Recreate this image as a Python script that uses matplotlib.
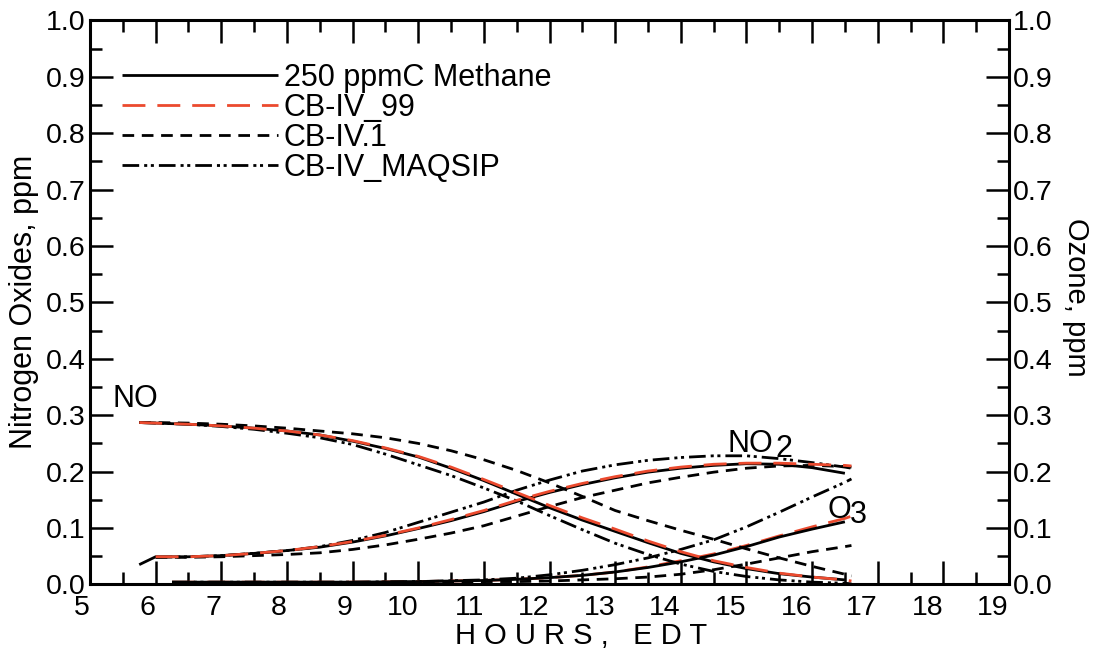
import numpy as np
import matplotlib
matplotlib.use("Agg")
import matplotlib.pyplot as plt
from matplotlib.ticker import MultipleLocator, FormatStrFormatter

nan = np.nan

# ---------------- data ----------------
hours = [5.75, 6.0, 6.5, 7.0, 7.5, 8.0, 8.5, 9.0, 9.5, 10.0, 10.5, 11.0, 11.5,
         12.0, 12.5, 13.0, 13.5, 14.0, 14.5, 15.0, 15.5, 16.0, 16.5, 16.6]

methane_no = [0.287, 0.286, 0.284, 0.281, 0.277, 0.272, 0.265, 0.254, 0.241, 0.226, 0.206, 0.184,
              0.160, 0.136, 0.114, 0.094, 0.074, 0.055, 0.040, 0.028, 0.019, 0.013, 0.008, nan]
cb99_no = [0.287, 0.286, 0.284, 0.281, 0.277, 0.272, 0.265, 0.255, 0.242, 0.227, 0.208, 0.186,
           0.163, 0.140, 0.118, 0.098, 0.077, 0.058, 0.042, 0.030, 0.020, 0.013, 0.008, 0.006]
cb1_no = [0.287, 0.287, 0.286, 0.284, 0.281, 0.277, 0.272, 0.267, 0.260, 0.250, 0.237, 0.221,
          0.202, 0.180, 0.156, 0.131, 0.113, 0.096, 0.080, 0.063, 0.047, 0.032, 0.018, 0.015]
maq_no = [0.287, 0.286, 0.284, 0.280, 0.275, 0.268, 0.260, 0.248, 0.231, 0.212, 0.193, 0.171,
          0.148, 0.122, 0.097, 0.073, 0.053, 0.036, 0.023, 0.014, 0.008, 0.004, 0.002, 0.001]

methane_no2 = [0.035, 0.049, 0.049, 0.051, 0.055, 0.060, 0.066, 0.075, 0.086, 0.099, 0.113, 0.129,
               0.147, 0.163, 0.177, 0.189, 0.199, 0.206, 0.211, 0.214, 0.213, 0.207, 0.197, nan]
cb99_no2 = [nan, 0.049, 0.049, 0.051, 0.055, 0.060, 0.067, 0.076, 0.087, 0.100, 0.115, 0.131,
            0.149, 0.165, 0.179, 0.191, 0.201, 0.208, 0.213, 0.215, 0.215, 0.213, 0.211, 0.210]
cb1_no2 = [nan, 0.048, 0.048, 0.049, 0.051, 0.053, 0.056, 0.062, 0.070, 0.080, 0.091, 0.104,
           0.121, 0.138, 0.154, 0.167, 0.180, 0.190, 0.199, 0.206, 0.210, 0.211, 0.209, 0.208]
maq_no2 = [nan, 0.048, 0.049, 0.051, 0.055, 0.060, 0.067, 0.078, 0.092, 0.110, 0.128, 0.146,
           0.167, 0.185, 0.201, 0.212, 0.220, 0.225, 0.228, 0.228, 0.223, 0.216, 0.208, 0.206]

hours_o3 = [6.25, 7.0, 8.0, 9.0, 10.0, 11.0, 11.5, 12.0, 12.5, 13.0, 13.5, 14.0, 14.5,
            15.0, 15.5, 16.0, 16.5, 16.6]
methane_o3 = [0.004, 0.004, 0.004, 0.004, 0.005, 0.007, 0.009, 0.012, 0.016, 0.022, 0.030, 0.040,
              0.052, 0.067, 0.084, 0.098, 0.111, nan]
cb99_o3 = [0.004, 0.004, 0.004, 0.004, 0.005, 0.007, 0.009, 0.012, 0.016, 0.022, 0.031, 0.042,
           0.054, 0.069, 0.086, 0.102, 0.117, 0.121]
cb1_o3 = [0.003, 0.003, 0.003, 0.003, 0.004, 0.005, 0.005, 0.006, 0.008, 0.010, 0.013, 0.018,
          0.026, 0.036, 0.047, 0.058, 0.067, 0.069]
maq_o3 = [0.004, 0.004, 0.004, 0.004, 0.005, 0.008, 0.011, 0.017, 0.025, 0.035, 0.047, 0.062,
          0.079, 0.102, 0.128, 0.155, 0.181, 0.187]

series_names = ["250 ppmC Methane", "CB-IV_99", "CB-IV.1", "CB-IV_MAQSIP"]
x_ticks = list(range(5, 20))
x_tick_labels = [str(v) for v in x_ticks]

# ---------------- style ----------------
plt.rcParams['font.family'] = ['Liberation Sans', 'DejaVu Sans']
plt.rcParams['lines.scale_dashes'] = False

RED = '#EB4A2E'
styles = {
    "250 ppmC Methane": dict(color='black', ls='-', lw=2.0, zorder=4),
    "CB-IV_99": dict(color=RED, ls=(0, (16.5, 8.6)), lw=2.0, zorder=5),
    "CB-IV.1": dict(color='black', ls=(0, (8.4, 5.5)), lw=2.0, zorder=3),
    "CB-IV_MAQSIP": dict(color='black', ls=(0, (12, 3.6, 2.2, 2.6, 2.2, 3.6)), lw=2.0, zorder=3),
}
data = {
    "250 ppmC Methane": (methane_no, methane_no2, methane_o3),
    "CB-IV_99": (cb99_no, cb99_no2, cb99_o3),
    "CB-IV.1": (cb1_no, cb1_no2, cb1_o3),
    "CB-IV_MAQSIP": (maq_no, maq_no2, maq_o3),
}

W, H = 1094, 650
fig = plt.figure(figsize=(W / 100, H / 100), dpi=100)
ax = fig.add_axes([90 / W, 1 - 584.4 / H, 919 / W, 564 / H])

handles = []
for name in series_names:
    no, no2, o3 = data[name]
    st = styles[name]
    h, = ax.plot(hours, no, label=name, solid_capstyle='butt', dash_capstyle='butt', **st)
    ax.plot(hours, no2, solid_capstyle='butt', dash_capstyle='butt', **st)
    o3_style = dict(st)
    if name == "CB-IV_99":
        o3_style['zorder'] = 2
    ax.plot(hours_o3, o3, solid_capstyle='butt', dash_capstyle='butt', **o3_style)
    handles.append(h)

ax.set_xlim(5, 19)
ax.set_ylim(0, 1.0)

for s in ax.spines.values():
    s.set_linewidth(2.2)

ax.set_xticks(x_ticks)
ax.set_xticklabels(x_tick_labels, ha='right')
ax.xaxis.set_minor_locator(MultipleLocator(0.5))
ax.yaxis.set_major_locator(MultipleLocator(0.1))
ax.yaxis.set_minor_locator(MultipleLocator(0.05))
ax.yaxis.set_major_formatter(FormatStrFormatter('%.1f'))

ax.tick_params(which='both', direction='in', top=True, right=True, labelright=True,
               labelsize=20.5, width=1.8)
ax.tick_params(which='major', length=16.5)
ax.tick_params(which='minor', length=8.6)
ax.tick_params(axis='x', which='major', pad=7.5)
ax.tick_params(axis='y', which='major', pad=3)

leg = ax.legend(handles=handles, loc='upper left', bbox_to_anchor=(0.0348, 0.925),
                frameon=False, fontsize=22, handlelength=5.1, handletextpad=0.2,
                labelspacing=0.0, borderpad=0, borderaxespad=0)

# species labels
ax.text(5.35, 0.3145, "NO", fontsize=22, va='baseline', ha='left')
ax.text(14.71, 0.235, "NO", fontsize=22, va='baseline', ha='left')
ax.text(15.45, 0.226, "2", fontsize=22, va='baseline', ha='left')
ax.text(16.23, 0.118, "O", fontsize=22, va='baseline', ha='left')
ax.text(16.58, 0.109, "3", fontsize=22, va='baseline', ha='left')

# axis titles
fig.text(581 / W, 1 - 643.5 / H, "H O U R S ,   E D T", fontsize=21, ha='center', va='baseline')
fig.text(24 / W, 1 - 302 / H, "Nitrogen Oxides, ppm", fontsize=22, rotation=90,
         ha='center', va='center')
fig.text(1076 / W, 1 - 297 / H, "Ozone, ppm", fontsize=21, rotation=270,
         ha='center', va='center')

fig.savefig("out.png", dpi=100)
